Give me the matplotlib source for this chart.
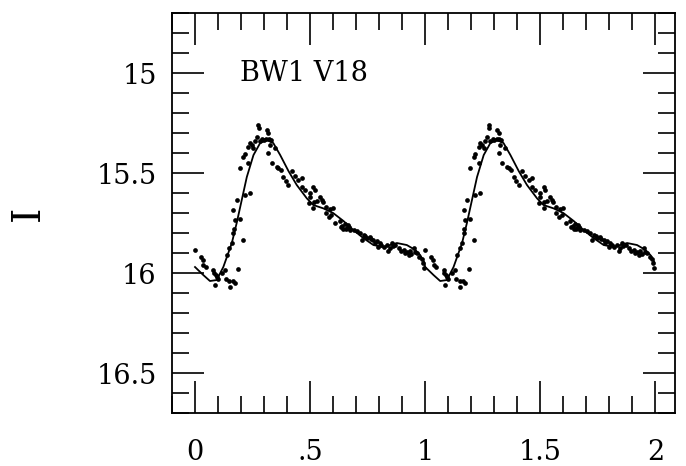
import numpy as np
import matplotlib
matplotlib.use('Agg')
import matplotlib.pyplot as plt
from matplotlib.ticker import MultipleLocator

# 相位 / 星等 (一个周期, 之后复制到 1-2)
phase = [0.000, 0.025, 0.033, 0.036, 0.048, 0.080, 0.083, 0.090, 0.095, 0.100,
         0.087, 0.116, 0.130, 0.135, 0.149, 0.152, 0.164, 0.174, 0.188, 0.140,
         0.149, 0.160, 0.210, 0.167, 0.170, 0.174, 0.167, 0.181, 0.196, 0.217,
         0.239, 0.196, 0.210, 0.217, 0.232, 0.232, 0.239, 0.246, 0.254, 0.261,
         0.268, 0.275, 0.276, 0.283, 0.293, 0.300, 0.312, 0.319, 0.310, 0.322,
         0.330, 0.326, 0.319, 0.348, 0.333, 0.355, 0.362, 0.374, 0.384, 0.395,
         0.406, 0.420, 0.435, 0.449, 0.464, 0.464, 0.478, 0.500, 0.514, 0.520,
         0.500, 0.516, 0.530, 0.543, 0.550, 0.556, 0.493, 0.514, 0.570, 0.585,
         0.600, 0.592, 0.570, 0.580, 0.610, 0.630, 0.640, 0.652, 0.660, 0.645,
         0.655, 0.635, 0.674, 0.703, 0.717, 0.732, 0.725, 0.746, 0.760, 0.775,
         0.790, 0.783, 0.804, 0.797, 0.819, 0.833, 0.848, 0.855, 0.870, 0.840,
         0.884, 0.906, 0.913, 0.928, 0.935, 0.950, 0.964, 0.975, 0.985, 0.990,
         0.995, 0.665, 0.670, 0.690, 0.740, 0.765, 0.810, 0.860, 0.895, 0.920,
         0.940, 0.955]
mag = [15.885, 15.920, 15.935, 15.960, 15.970, 15.985, 16.000, 16.010, 16.020, 16.030,
       16.060, 16.000, 15.985, 16.030, 16.040, 16.070, 16.040, 16.050, 15.980, 15.910,
       15.877, 15.850, 15.835, 15.800, 15.780, 15.735, 15.685, 15.635, 15.730, 15.610,
       15.600, 15.477, 15.420, 15.405, 15.450, 15.370, 15.350, 15.360, 15.375, 15.340,
       15.320, 15.260, 15.277, 15.340, 15.330, 15.335, 15.285, 15.300, 15.330, 15.330,
       15.335, 15.360, 15.400, 15.376, 15.450, 15.470, 15.477, 15.485, 15.520, 15.540,
       15.560, 15.490, 15.515, 15.535, 15.527, 15.570, 15.585, 15.600, 15.570, 15.585,
       15.620, 15.645, 15.640, 15.620, 15.635, 15.645, 15.650, 15.675, 15.670, 15.680,
       15.675, 15.710, 15.700, 15.720, 15.750, 15.740, 15.765, 15.755, 15.775, 15.780,
       15.780, 15.770, 15.785, 15.790, 15.800, 15.810, 15.835, 15.826, 15.820, 15.835,
       15.840, 15.850, 15.850, 15.870, 15.870, 15.860, 15.877, 15.850, 15.860, 15.890,
       15.877, 15.885, 15.900, 15.910, 15.890, 15.877, 15.900, 15.920, 15.930, 15.950,
       15.975, 15.760, 15.770, 15.785, 15.815, 15.830, 15.860, 15.865, 15.890, 15.895,
       15.905, 15.895]

# 拟合曲线
fit_phase = [0.000, 0.036, 0.065, 0.094, 0.123, 0.160, 0.181, 0.203, 0.225, 0.254,
             0.283, 0.312, 0.340, 0.370, 0.406, 0.442, 0.486, 0.514, 0.558, 0.600,
             0.645, 0.688, 0.732, 0.775, 0.819, 0.877, 0.920, 0.957, 0.978, 0.995]
fit_mag = [15.970, 16.010, 16.040, 16.035, 15.970, 15.850, 15.750, 15.635, 15.520, 15.410,
           15.350, 15.335, 15.350, 15.410, 15.490, 15.560, 15.627, 15.660, 15.677, 15.700,
           15.740, 15.785, 15.826, 15.860, 15.870, 15.850, 15.860, 15.885, 15.910, 15.945]

x_ticks = [0, 0.5, 1, 1.5, 2]
x_labels = ['0', '.5', '1', '1.5', '2']
y_ticks = [15, 15.5, 16, 16.5]
y_labels = ['15', '15.5', '16', '16.5']
star_name = 'BW1 V18'

plt.rcParams['font.family'] = ['DejaVu Serif']

ph = np.array(phase)
mg = np.array(mag)
fp = np.array(fit_phase)
fm = np.array(fit_mag)

fig = plt.figure(figsize=(6.86, 4.66), dpi=100)
ax = fig.add_axes([0.2507, 0.1137, 0.984 - 0.2507, 0.972 - 0.1137])

# 两个周期
ax.plot(np.concatenate([ph, ph + 1]), np.concatenate([mg, mg]), 'o',
        color='black', ms=3.4, mew=0)
ax.plot(np.concatenate([fp, fp + 1]), np.concatenate([fm, fm]),
        color='black', lw=1.3)

ax.set_xlim(-0.1, 2.085)
ax.set_ylim(16.7, 14.7)

ax.set_xticks(x_ticks)
ax.set_xticklabels(x_labels)
ax.set_yticks(y_ticks)
ax.set_yticklabels(y_labels)
ax.xaxis.set_minor_locator(MultipleLocator(0.1))
ax.yaxis.set_minor_locator(MultipleLocator(0.1))

ax.tick_params(which='both', direction='in', top=True, right=True, width=1.2,
               labelsize=19.5)
ax.tick_params(which='major', length=23)
ax.tick_params(which='minor', length=12)
ax.tick_params(axis='x', which='major', pad=19)
ax.tick_params(axis='y', which='major', pad=11)
for s in ax.spines.values():
    s.set_linewidth(1.3)

fig.text(28 / 686, 1 - 213 / 466, 'I', fontsize=28, rotation=90,
         ha='center', va='center')
ax.text(0.196, 15.0, star_name, fontsize=19.5, va='center', ha='left')

fig.savefig('out.png', dpi=100)
